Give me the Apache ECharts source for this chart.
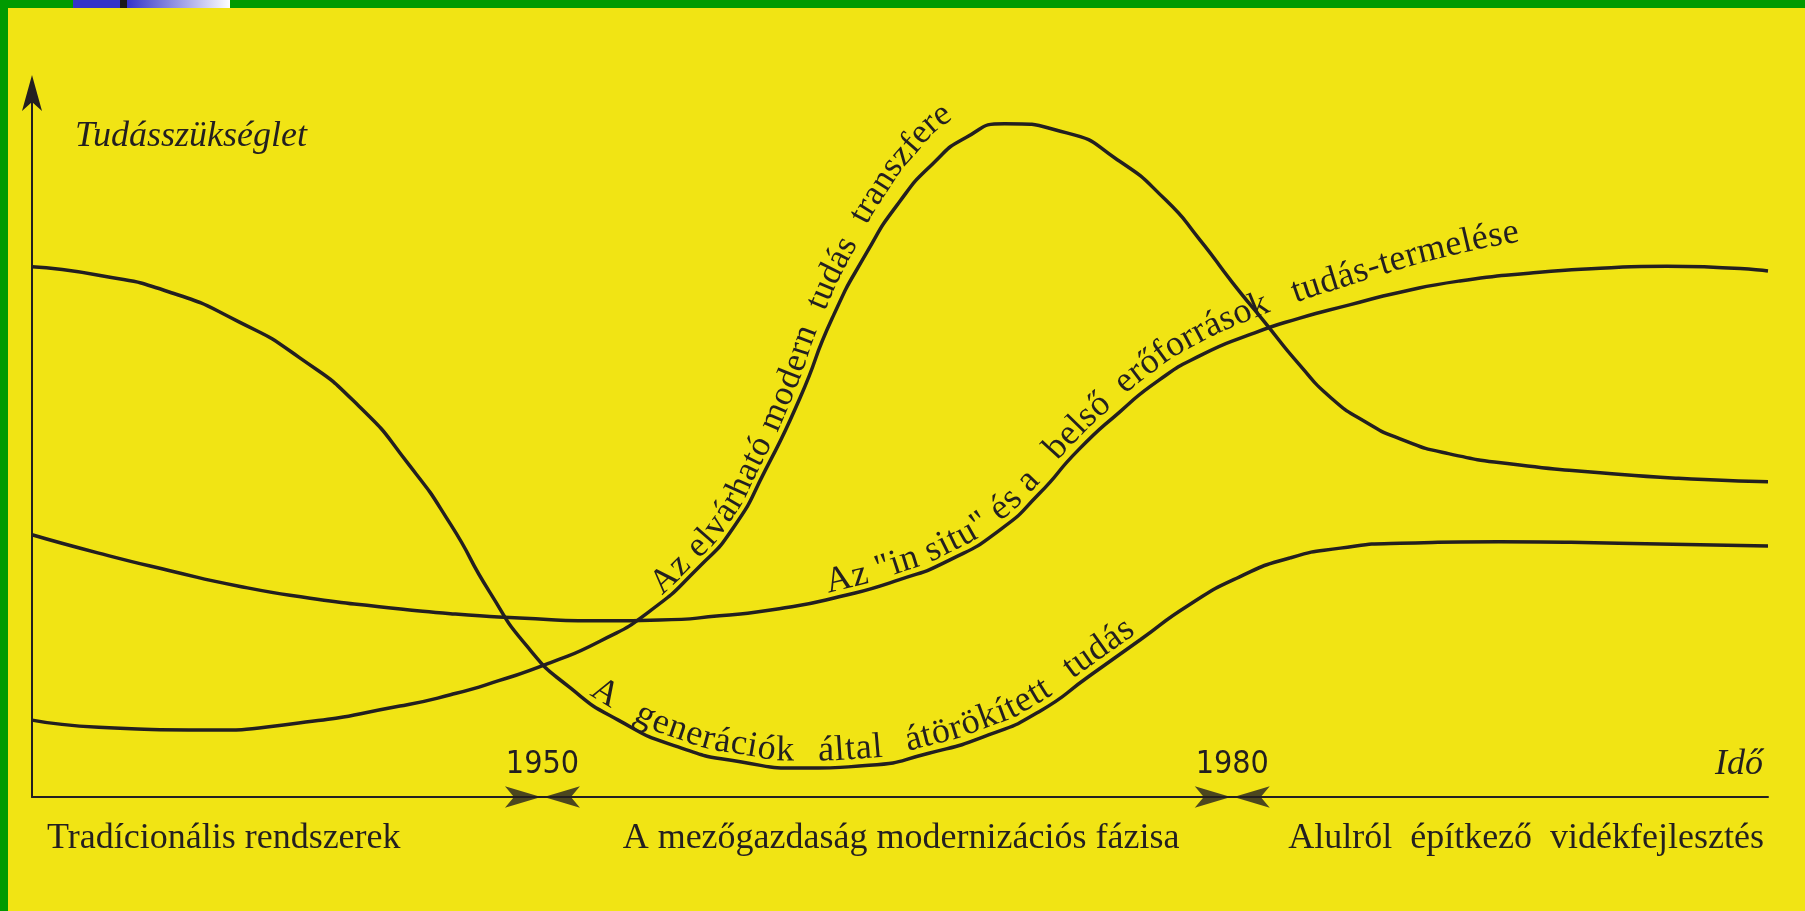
<!DOCTYPE html>
<html>
<head>
<meta charset="utf-8">
<script src="https://cdn.jsdelivr.net/npm/echarts@6/dist/echarts.min.js"></script>
<style>
  html, body { margin: 0; padding: 0; background: #f1e414; }
  #chart { width: 1805px; height: 911px; }
</style>
</head>
<body>
<div id="chart"></div>
<script>
// values: x = year, y = relative need for knowledge (0-100)
const tradYears = [1927.8, 1930.7, 1933.8, 1936.8, 1939.4, 1942.0, 1944.2, 1946.0, 1947.7, 1949.4, 1951.2, 1953.3, 1955.9, 1958.6, 1961.4, 1964.2, 1966.8, 1969.4, 1971.6, 1973.8, 1976.0, 1978.1, 1980.3, 1982.5, 1984.7, 1987.3, 1991.6, 1996.8, 2003.3];
const tradValues = [75.2, 74.0, 71.6, 67.4, 62.4, 55.5, 47.1, 38.7, 29.1, 21.1, 15.5, 10.9, 7.1, 5.0, 4.1, 4.5, 6.2, 8.8, 12.1, 17.2, 22.3, 27.2, 31.2, 33.9, 35.3, 36.0, 36.2, 36.0, 35.6];

const modernYears = [1927.8, 1930.7, 1935.1, 1939.4, 1943.8, 1946.0, 1948.1, 1950.3, 1952.5, 1954.6, 1956.8, 1958.3, 1959.7, 1961.2, 1962.6, 1964.1, 1965.5, 1967.0, 1968.4, 1970.1, 1972.8, 1975.0, 1977.1, 1978.6, 1980.0, 1981.4, 1982.9, 1984.3, 1985.8, 1987.3, 1989.4, 1992.5, 1996.0, 1999.4, 2003.3];
const modernValues = [10.9, 9.9, 9.5, 10.5, 12.9, 14.5, 16.5, 19.0, 22.1, 26.2, 32.6, 38.2, 46.4, 56.6, 67.9, 77.2, 84.3, 89.9, 93.5, 95.5, 94.2, 90.4, 84.7, 79.0, 73.0, 67.4, 61.4, 56.6, 53.2, 50.8, 48.7, 47.1, 46.0, 45.2, 44.7];

const insituYears = [1927.8, 1930.7, 1933.8, 1936.8, 1939.9, 1942.9, 1946.0, 1949.0, 1952.5, 1955.1, 1957.7, 1960.3, 1962.9, 1965.5, 1967.7, 1969.9, 1971.6, 1973.3, 1975.1, 1976.8, 1978.6, 1980.7, 1982.9, 1985.1, 1987.3, 1989.9, 1992.9, 1996.0, 1998.9, 2003.3];
const insituValues = [37.2, 34.6, 32.1, 29.9, 28.2, 27.0, 26.0, 25.4, 25.0, 25.1, 25.7, 26.7, 28.4, 30.8, 33.6, 37.9, 43.0, 49.2, 54.6, 59.1, 62.6, 65.5, 67.9, 69.8, 71.6, 73.2, 74.3, 75.0, 75.3, 74.6];

const phaseYears = [1950, 1980];
const phaseNames = ['Tradícionális rendszerek', 'A mezőgazdaság modernizációs fázisa', 'Alulról  építkező  vidékfejlesztés'];
const curveNames = [
  'A  generációk  által  átörökített  tudás',
  'Az elvárható modern  tudás  transzfere',
  'Az "in situ" és a   belső  erőforrások   tudás-termelése'
];
const yName = 'Tudásszükséglet';
const xName = 'Idő';

const ink = '#231f20';
const serif = '"Liberation Serif", "Times New Roman", serif';
const narrow = '"Liberation Sans Narrow", "DejaVu Sans Condensed", sans-serif';
const SMOOTH = 0.6;

const chart = echarts.init(document.getElementById('chart'));

function lineSeries(name, xs, ys) {
  return {
    type: 'line',
    name: name,
    data: xs.map((x, i) => [x, ys[i]]),
    smooth: SMOOTH,
    showSymbol: false,
    symbol: 'none',
    clip: false,
    silent: true,
    lineStyle: { color: ink, width: 3.5 }
  };
}

// the arrow symbol is anchored at its tip
function arrowSeries(rotate, dx) {
  return {
    type: 'scatter',
    data: phaseYears.map((y) => [y, 0]),
    symbol: 'arrow',
    symbolSize: [16, 36],
    symbolRotate: rotate,
    symbolOffset: [dx, 0],
    itemStyle: { color: ink },
    silent: true,
    clip: false,
    z: 4
  };
}

chart.setOption({
  animation: false,
  backgroundColor: '#f1e414',
  grid: { left: 32, right: 37, top: 92, bottom: 114 },
  xAxis: {
    type: 'value',
    min: 1927.8,
    max: 2003.3,
    axisLine: { show: true, onZero: false, lineStyle: { color: ink, width: 2 } },
    axisTick: { show: false },
    splitLine: { show: false },
    axisLabel: {
      customValues: phaseYears,
      formatter: (v) => String(v),
      inside: true,
      margin: 32,
      verticalAlign: 'middle',
      color: ink,
      fontFamily: narrow,
      fontSize: 32
    }
  },
  yAxis: {
    type: 'value',
    min: 0,
    max: 100,
    axisLine: {
      show: true,
      onZero: false,
      symbol: ['none', 'arrow'],
      symbolSize: [15, 36],
      symbolOffset: [0, 17],
      lineStyle: { color: ink, width: 2 }
    },
    axisTick: { show: false },
    axisLabel: { show: false },
    splitLine: { show: false }
  },
  series: [
    lineSeries(curveNames[0], tradYears, tradValues),
    lineSeries(curveNames[1], modernYears, modernValues),
    lineSeries(curveNames[2], insituYears, insituValues),
    arrowSeries(-90, -1.5),
    arrowSeries(90, 1.5)
  ]
});

// --- text along the curves ---
// same control point rule as the echarts smooth line, so the text follows the drawn curve
function bezierSegments(pts, smooth) {
  const segs = [];
  let cp0 = pts[0];
  for (let i = 1; i < pts.length; i++) {
    const x = pts[i][0], y = pts[i][1];
    const px = pts[i - 1][0], py = pts[i - 1][1];
    let cp1, nextCp0 = null;
    if (i === pts.length - 1) {
      cp1 = [x, y];
    } else {
      const nx = pts[i + 1][0], ny = pts[i + 1][1];
      let vx = nx - px, vy = ny - py;
      const lenPrev = Math.hypot(x - px, y - py);
      const lenNext = Math.hypot(nx - x, ny - y);
      const ratio = lenNext / (lenNext + lenPrev);
      let ncx = x + vx * smooth * ratio, ncy = y + vy * smooth * ratio;
      ncx = Math.max(Math.min(ncx, Math.max(nx, x)), Math.min(nx, x));
      ncy = Math.max(Math.min(ncy, Math.max(ny, y)), Math.min(ny, y));
      vx = ncx - x; vy = ncy - y;
      let c1x = x - vx * lenPrev / lenNext, c1y = y - vy * lenPrev / lenNext;
      c1x = Math.max(Math.min(c1x, Math.max(px, x)), Math.min(px, x));
      c1y = Math.max(Math.min(c1y, Math.max(py, y)), Math.min(py, y));
      vx = x - c1x; vy = y - c1y;
      nextCp0 = [x + vx * lenNext / lenPrev, y + vy * lenNext / lenPrev];
      cp1 = [c1x, c1y];
    }
    segs.push([[px, py], cp0, cp1, [x, y]]);
    cp0 = nextCp0;
  }
  return segs;
}

function withLengths(pts) {
  const len = [0];
  for (let i = 1; i < pts.length; i++) {
    len.push(len[i - 1] + Math.hypot(pts[i][0] - pts[i - 1][0], pts[i][1] - pts[i - 1][1]));
  }
  return { pts: pts, len: len };
}

function curvePolyline(xs, ys) {
  const pts = xs.map((x, i) => chart.convertToPixel({ xAxisIndex: 0, yAxisIndex: 0 }, [x, ys[i]]));
  const out = [pts[0]];
  bezierSegments(pts, SMOOTH).forEach(([p0, c0, c1, p1]) => {
    for (let k = 1; k <= 24; k++) {
      const t = k / 24, u = 1 - t;
      out.push([
        u * u * u * p0[0] + 3 * u * u * t * c0[0] + 3 * u * t * t * c1[0] + t * t * t * p1[0],
        u * u * u * p0[1] + 3 * u * u * t * c0[1] + 3 * u * t * t * c1[1] + t * t * t * p1[1]
      ]);
    }
  });
  return withLengths(out);
}

function pointAt(poly, s) {
  const pts = poly.pts, len = poly.len;
  let i = 1;
  while (i < len.length - 1 && len[i] < s) i++;
  const t = (s - len[i - 1]) / ((len[i] - len[i - 1]) || 1);
  return [pts[i - 1][0] + (pts[i][0] - pts[i - 1][0]) * t, pts[i - 1][1] + (pts[i][1] - pts[i - 1][1]) * t];
}

function arcAtX(poly, px) {
  const pts = poly.pts, len = poly.len;
  for (let i = 1; i < pts.length; i++) {
    if (pts[i][0] >= px) {
      const t = (px - pts[i - 1][0]) / ((pts[i][0] - pts[i - 1][0]) || 1);
      return len[i - 1] + (len[i] - len[i - 1]) * t;
    }
  }
  return len[len.length - 1];
}

function offsetPoint(poly, s, d) {
  const a = pointAt(poly, s - 4), b = pointAt(poly, s + 4), p = pointAt(poly, s);
  let tx = b[0] - a[0], ty = b[1] - a[1];
  const n = Math.hypot(tx, ty) || 1;
  tx /= n; ty /= n;
  return [p[0] + ty * d, p[1] - tx * d];
}

const measure = document.createElement('canvas').getContext('2d');

// where each curve caption starts / ends (year on the x axis) and its distance from the line
const captionLayout = [
  { xs: tradYears, ys: tradValues, from: 1951.8, to: 1976.0, size: 36, d0: 17, d1: 17 },
  { xs: modernYears, ys: modernValues, from: 1955.3, to: 1968.3, size: 35, d0: 15, d1: 32 },
  { xs: insituYears, ys: insituValues, from: 1962.5, to: 1992.6, size: 36, d0: 16, d1: 42 }
];

const captionEls = [];
captionLayout.forEach((c, idx) => {
  const poly = curvePolyline(c.xs, c.ys);
  const s0 = arcAtX(poly, chart.convertToPixel({ xAxisIndex: 0 }, c.from));
  const s1 = arcAtX(poly, chart.convertToPixel({ xAxisIndex: 0 }, c.to));
  const dAt = (s) => {
    const f = Math.max(0, Math.min(1, (s - s0) / (s1 - s0)));
    return c.d0 + (c.d1 - c.d0) * f * f * f;
  };
  // the line the glyphs sit on, lifted off the curve
  const step = 2, lead = 30;
  const base = [];
  for (let s = s0 - lead; s <= s1 + 60; s += step) base.push(offsetPoint(poly, s, dAt(s)));
  const path = withLengths(base);
  const q0 = path.len[lead / step];
  const q1 = path.len[Math.round((s1 - s0 + lead) / step)];

  const font = c.size + 'px ' + serif;
  measure.font = font;
  const chars = Array.from(curveNames[idx]);
  const widths = chars.map((ch) => measure.measureText(ch).width);
  const natural = widths.reduce((a, b) => a + b, 0);
  const nSpaces = chars.filter((ch) => ch === ' ').length;
  // letters keep a tight pitch, the word gaps take up the rest
  let letterGap = 0.6;
  let spaceExtra = (q1 - q0 - natural - letterGap * (chars.length - 1)) / Math.max(1, nSpaces);
  if (spaceExtra < -0.12 * c.size) {
    spaceExtra = -0.12 * c.size;
    letterGap = (q1 - q0 - natural - spaceExtra * nSpaces) / (chars.length - 1);
  }
  let cursor = q0;
  chars.forEach((ch, i) => {
    const sc = cursor + widths[i] / 2;
    cursor += widths[i] + letterGap + (ch === ' ' ? spaceExtra : 0);
    if (ch === ' ') return;
    const p = pointAt(path, sc);
    const a = pointAt(path, sc - 4);
    const b = pointAt(path, sc + 4);
    captionEls.push({
      type: 'text',
      x: p[0],
      y: p[1],
      rotation: Math.atan2(-(b[1] - a[1]), b[0] - a[0]),
      silent: true,
      z: 50,
      style: { text: ch, font: font, fill: ink, align: 'center', verticalAlign: 'middle' }
    });
  });
});

const frameEls = [
  { type: 'rect', shape: { x: 0, y: 0, width: 1805, height: 8 }, style: { fill: '#009a00' }, silent: true, z: 60 },
  { type: 'rect', shape: { x: 0, y: 0, width: 8, height: 911 }, style: { fill: '#009a00' }, silent: true, z: 60 },
  { type: 'rect', shape: { x: 73, y: 0, width: 47, height: 8 }, style: { fill: '#3434c9' }, silent: true, z: 61 },
  { type: 'rect', shape: { x: 120, y: 0, width: 7, height: 8 }, style: { fill: '#1a1a1a' }, silent: true, z: 61 },
  {
    type: 'rect', shape: { x: 127, y: 0, width: 103, height: 8 }, silent: true, z: 61,
    style: {
      fill: new echarts.graphic.LinearGradient(0, 0, 1, 0, [
        { offset: 0, color: '#3434c9' },
        { offset: 1, color: '#ffffff' }
      ])
    }
  }
];

const textEls = [
  { type: 'text', x: 75, y: 137, silent: true, z: 50,
    style: { text: yName, font: 'italic 36px ' + serif, fill: ink, align: 'left', verticalAlign: 'middle' } },
  { type: 'text', x: 1763, y: 765, silent: true, z: 50,
    style: { text: xName, font: 'italic 36px ' + serif, fill: ink, align: 'right', verticalAlign: 'middle' } },
  { type: 'text', x: 47, y: 839, silent: true, z: 50,
    style: { text: phaseNames[0], font: '36px ' + serif, fill: ink, align: 'left', verticalAlign: 'middle' } },
  { type: 'text', x: 901, y: 839, silent: true, z: 50,
    style: { text: phaseNames[1], font: '36px ' + serif, fill: ink, align: 'center', verticalAlign: 'middle' } },
  { type: 'text', x: 1764, y: 839, silent: true, z: 50,
    style: { text: phaseNames[2], font: '36px ' + serif, fill: ink, align: 'right', verticalAlign: 'middle' } }
];

chart.setOption({ graphic: { elements: frameEls.concat(textEls, captionEls) } });
</script>
</body>
</html>
